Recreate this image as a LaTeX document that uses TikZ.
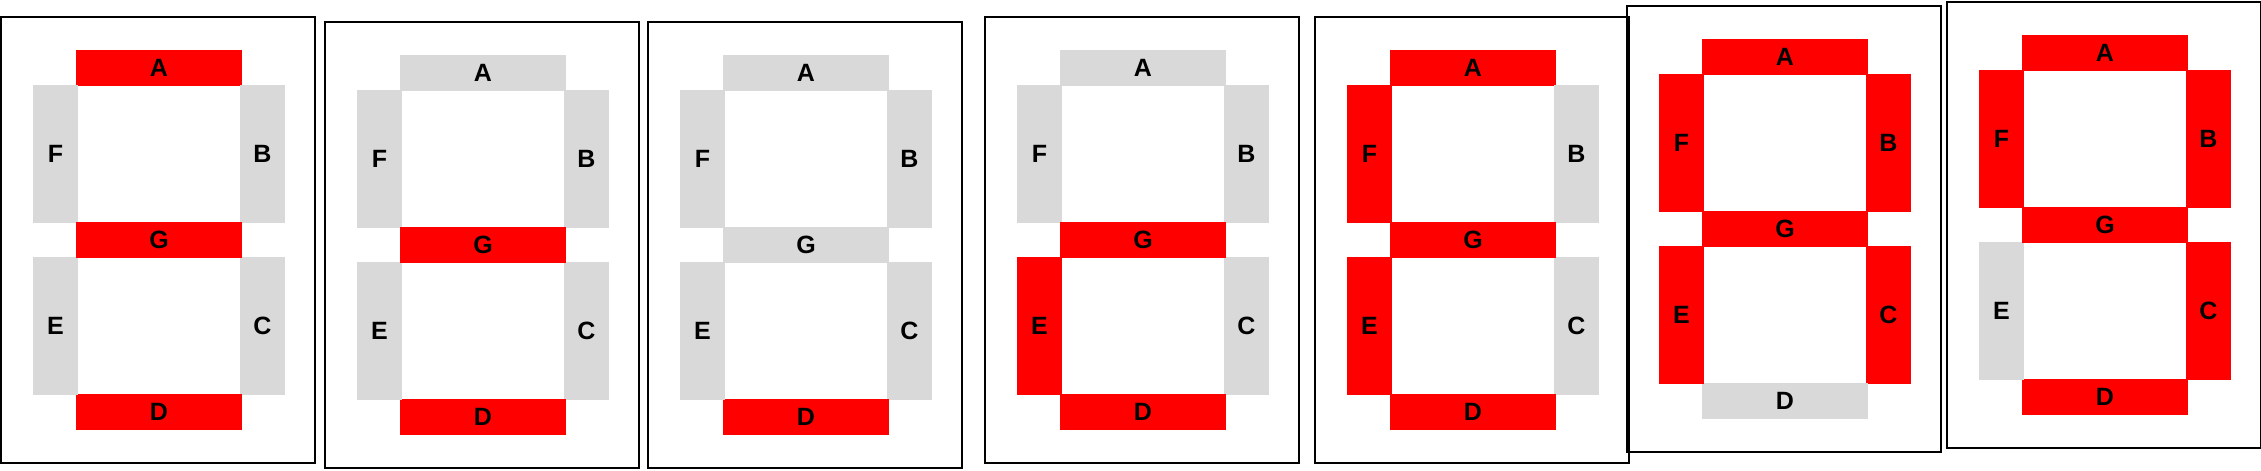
\documentclass[tikz,border=0pt]{standalone}
\usepackage{fontspec}
\setmainfont{Liberation Sans}
\usepackage{tikz}
\definecolor{lit}{HTML}{FF0000}
\definecolor{dim}{HTML}{D9D9D9}
\tikzset{
  panel/.style={draw, line width=1pt, minimum width=157pt, minimum height=223pt, inner sep=0pt},
  seg/.style={inner sep=0pt, text=black, font=\bfseries\fontsize{12.5}{14}\selectfont},
  hseg/.style={seg, minimum width=83pt, minimum height=18pt},
  vseg/.style={seg, minimum width=22.5pt, minimum height=69pt}
}

\begin{document}
\begin{tikzpicture}[x=0.5pt, y=-0.5pt]
\useasboundingbox (0,0) rectangle (2261,471);
% panel / frame corner / segments a b c d e f g
\foreach \n/\x/\y/\a/\b/\c/\d/\e/\f/\g in {
  1/1/17/lit/dim/dim/lit/dim/dim/lit,
  2/325/22/dim/dim/dim/lit/dim/dim/lit,
  3/648/22/dim/dim/dim/lit/dim/dim/dim,
  4/985/17/dim/dim/dim/lit/lit/dim/lit,
  5/1315/17/lit/dim/dim/lit/lit/lit/lit,
  6/1627/6/lit/lit/lit/dim/lit/lit/lit,
  7/1947/2/lit/lit/lit/lit/dim/lit/lit}
{
  \node[panel] (p\n) at (\x+157,\y+223) {};
  \node[hseg, fill=\a] (p\n-A) at (\x+158,\y+51) {A};
  \node[vseg, fill=\b] (p\n-B) at (\x+261.5,\y+137) {B};
  \node[vseg, fill=\c] (p\n-C) at (\x+261.5,\y+309) {C};
  \node[hseg, fill=\d] (p\n-D) at (\x+158,\y+395) {D};
  \node[vseg, fill=\e] (p\n-E) at (\x+54.5,\y+309) {E};
  \node[vseg, fill=\f] (p\n-F) at (\x+54.5,\y+137) {F};
  \node[hseg, fill=\g] (p\n-G) at (\x+158,\y+223) {G};
}
\end{tikzpicture}
\end{document}
